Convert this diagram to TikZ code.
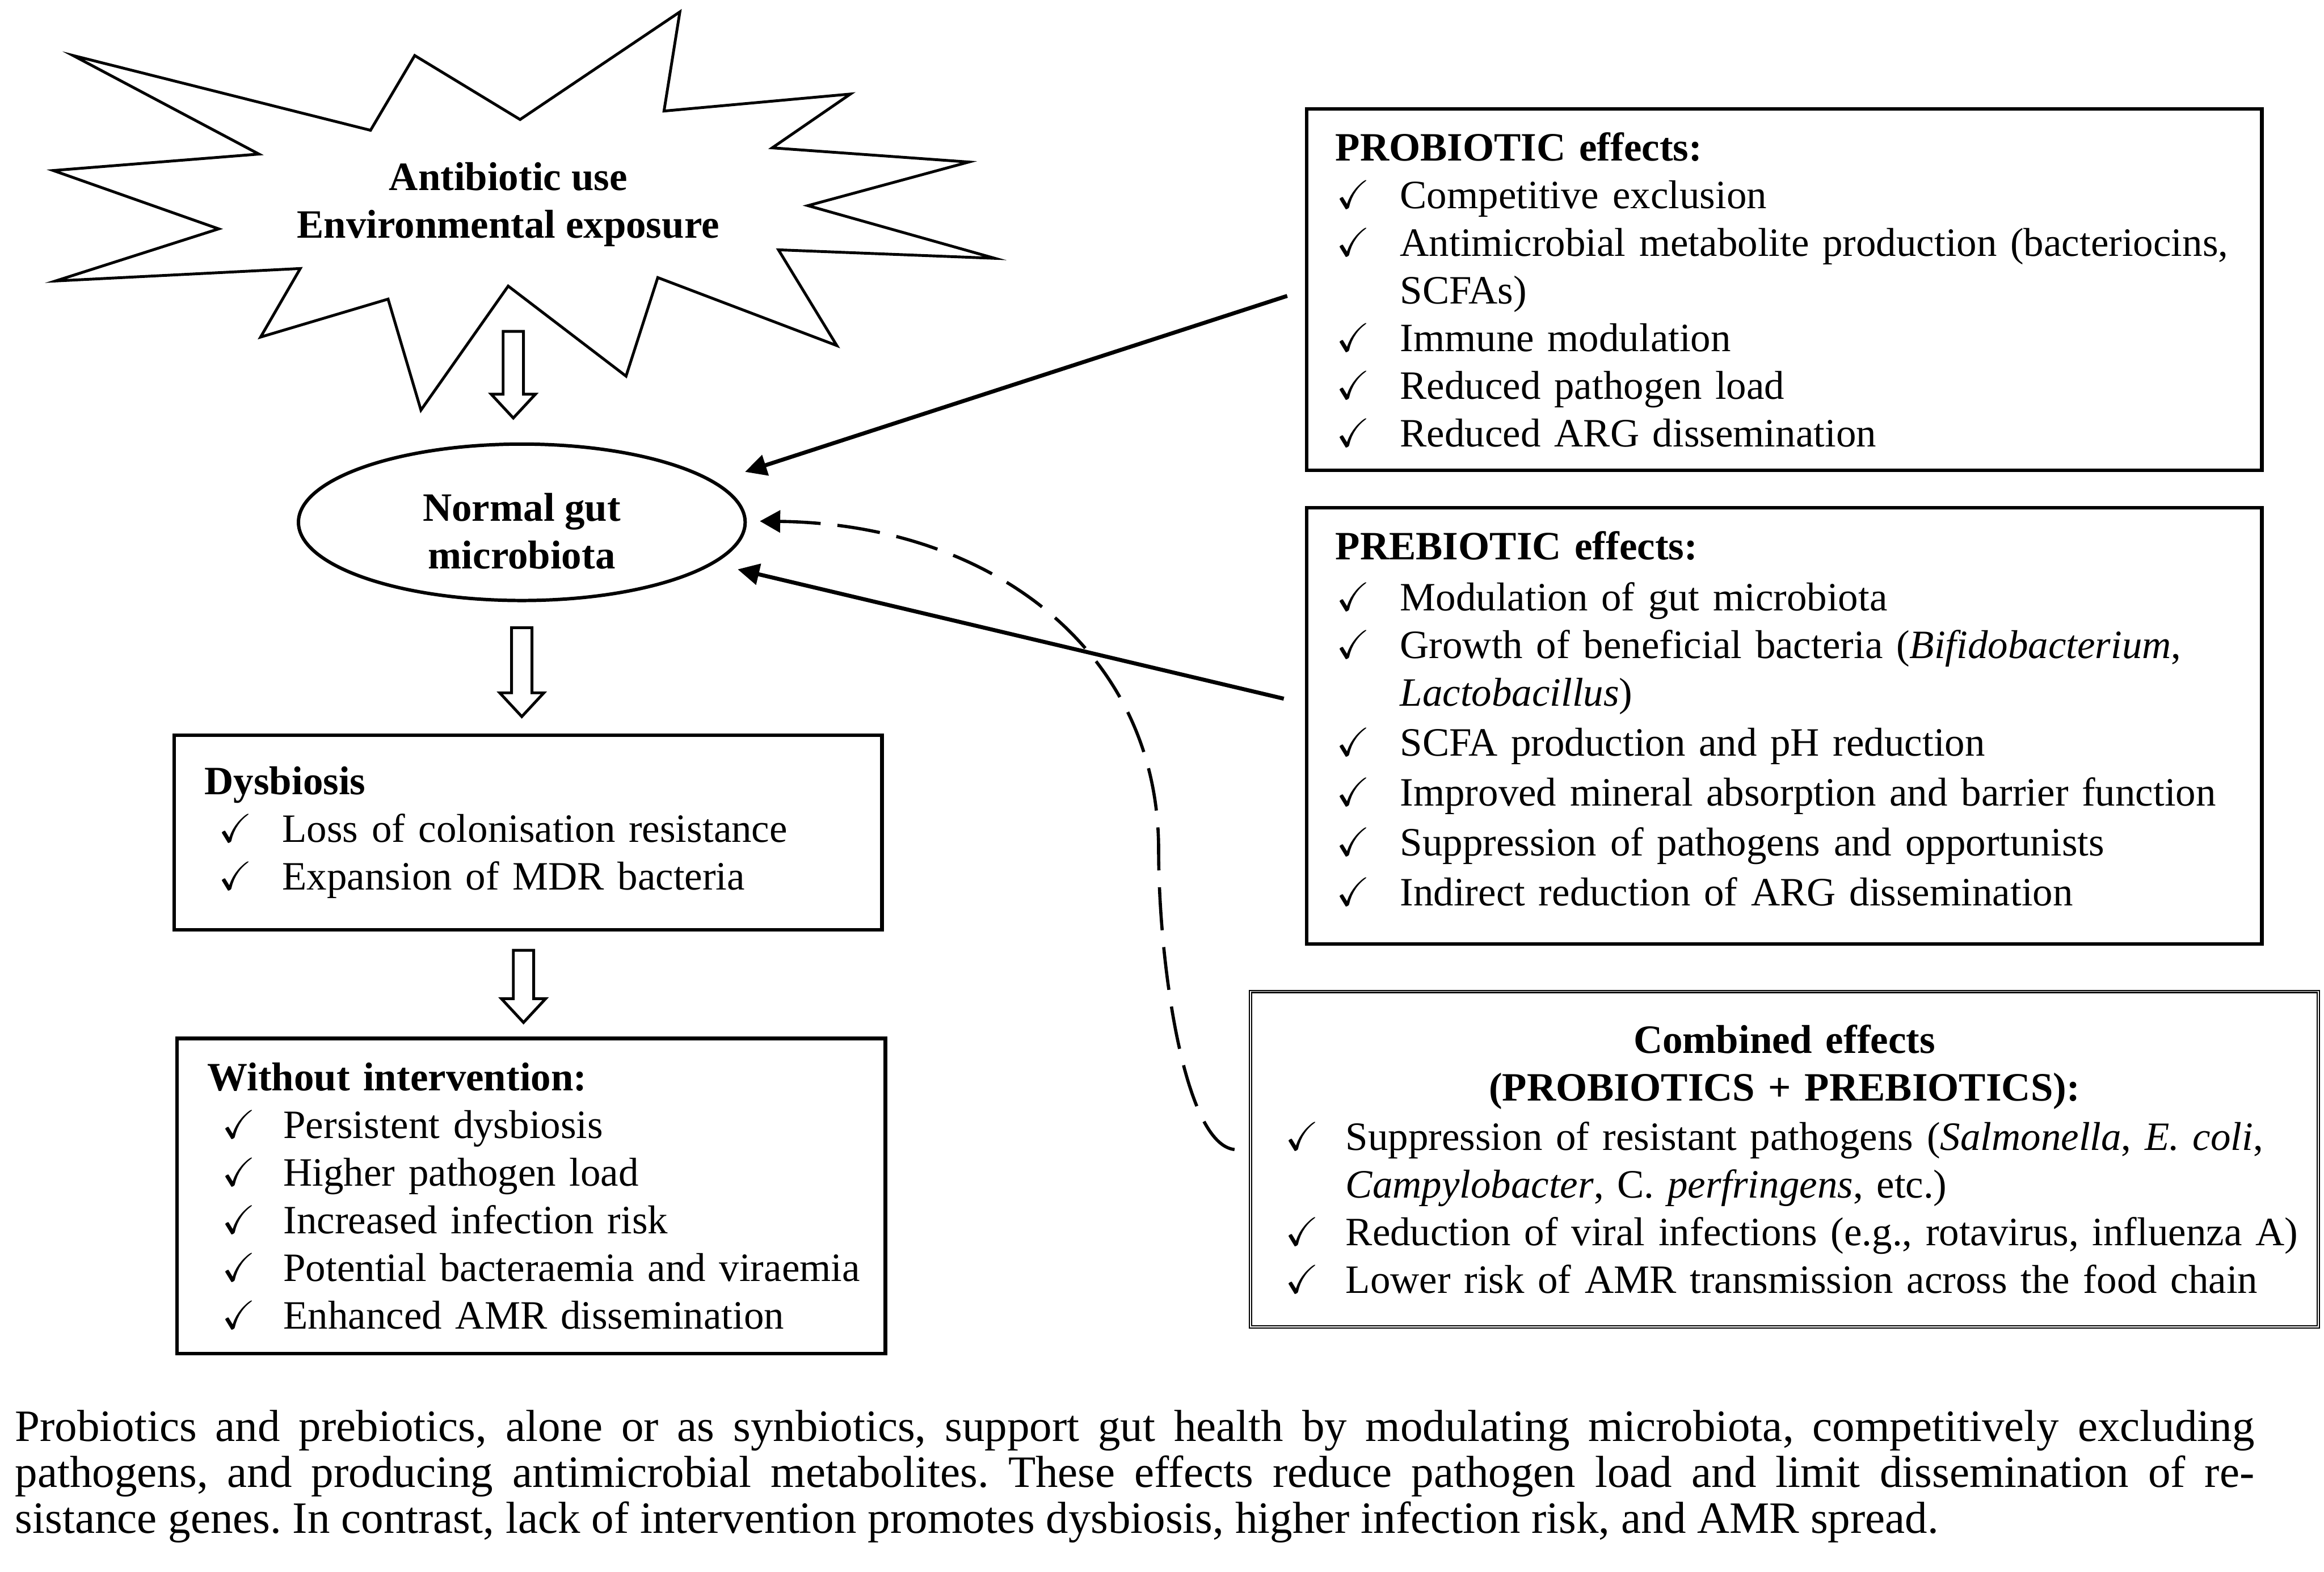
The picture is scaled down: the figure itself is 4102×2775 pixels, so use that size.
\documentclass[tikz,border=0pt]{standalone}
\usepackage{fontspec}
\setmainfont{Liberation Serif}
\usepackage{amssymb}
\usetikzlibrary{shapes.geometric, arrows.meta, calc}
\frenchspacing

\newlength{\chkin}
\newlength{\chkw}
\newcommand{\chk}[1]{\mbox{\hspace*{\chkin}\makebox[\chkw][l]{\checkmark}#1}}
\newcommand{\cont}[1]{\mbox{\hspace*{\chkin}\hspace*{\chkw}#1}}
\newcommand{\boxfont}{\fontsize{20.2pt}{23.9pt}\selectfont}
\newcommand{\blockdown}[2]{%
  \coordinate (bdtip) at (#1 |- #2);
  \draw[hollowarrow] ($(#1)+(-18,0)$) -- ($(#1)+(18,0)$) -- ($(bdtip)+(18,-42)$)
    -- ($(bdtip)+(39,-42)$) -- (bdtip) -- ($(bdtip)+(-39,-42)$) -- ($(bdtip)+(-18,-42)$) -- cycle;}

\tikzset{
  listbox/.style 2 args={draw, line width=1.8pt, anchor=north west, align=left,
    inner ysep=0pt, font=\boxfont,
    execute at begin node={\setlength{\chkin}{#1}\setlength{\chkw}{#2}}},
  hollowarrow/.style={draw, line width=1.4pt, line join=miter, fill=white},
  effectarrow/.style={line width=2pt, -{Triangle[length=10.8pt,width=10.5pt]}},
  combarrow/.style={line width=1.6pt, dash pattern=on 21.6pt off 8.5pt,
    -{Triangle[length=10.2pt,width=11pt]}},
}

\begin{document}
\begin{tikzpicture}[x=0.01cm, y=-0.01cm]
    \useasboundingbox (0,0) rectangle (4102,2775);
    \fill[white] (0,0) rectangle (4102,2775);

    % starburst
    \draw[line width=1.4pt, line join=miter] (129,98) -- (654,230) -- (732,98) -- (918,211)
      -- (1200,21) -- (1172,196) -- (1501,166) -- (1363,261) -- (1710,286) -- (1426,363)
      -- (1756,456) -- (1374,441) -- (1477,610) -- (1161,490) -- (1105,664) -- (897,505)
      -- (743,724) -- (685,528) -- (460,595) -- (530,474) -- (98,496) -- (386,404)
      -- (94,301) -- (457,272) -- cycle;
    \node[align=center, font=\bfseries\boxfont] (burst) at (897,361) {Antibiotic use\\Environmental exposure};
    \coordinate (burstfoot) at (906,585);

    \node[ellipse, draw, line width=1.7pt, minimum width=7.88cm, minimum height=2.76cm,
      align=center, font=\bfseries\boxfont] (gut) at (921,922) {\rule{0pt}{0.8cm}Normal gut\\microbiota};

    \node[listbox={0.25cm}{1.12cm}, minimum width=12.49cm, minimum height=3.43cm,
      text width=11.41cm, inner xsep=0.54cm] (dysb) at (304,1295) {%
      \textbf{Dysbiosis}\\
      \chk{Loss of colonisation resistance}\\
      \chk{Expansion of MDR bacteria}};

    \node[listbox={0.26cm}{1.08cm}, minimum width=12.50cm, minimum height=5.56cm,
      text width=11.42cm, inner xsep=0.54cm] (without) at (309,1830) {%
      \textbf{Without intervention:}\\
      \chk{Persistent dysbiosis}\\
      \chk{Higher pathogen load}\\
      \chk{Increased infection risk}\\
      \chk{Potential bacteraemia and viraemia}\\
      \chk{Enhanced AMR dissemination}};

    \node[listbox={0.02cm}{1.12cm}, minimum width=16.85cm, minimum height=6.38cm,
      text width=15.83cm, inner xsep=0.51cm] (probio) at (2303,189) {%
      \textbf{PROBIOTIC effects:}\\
      \chk{Competitive exclusion}\\
      \chk{Antimicrobial metabolite production (bacteriocins,}\\
      \cont{SCFAs)}\\
      \chk{Immune modulation}\\
      \chk{Reduced pathogen load}\\
      \chk{Reduced ARG dissemination}};

    \node[listbox={0.02cm}{1.12cm}, minimum width=16.85cm, minimum height=7.70cm,
      text width=15.83cm, inner xsep=0.51cm] (prebio) at (2303,893) {%
      \textbf{PREBIOTIC effects:}\\[0.06cm]
      \chk{Modulation of gut microbiota}\\
      \chk{Growth of beneficial bacteria (\textit{Bifidobacterium},}\\
      \cont{\textit{Lactobacillus})}\\[0.04cm]
      \chk{SCFA production and pH reduction}\\[0.04cm]
      \chk{Improved mineral absorption and barrier function}\\[0.04cm]
      \chk{Suppression of pathogens and opportunists}\\[0.04cm]
      \chk{Indirect reduction of ARG dissemination}\rule[-0.26cm]{0pt}{0pt}};

    \node[listbox={0cm}{1.06cm}, line width=0.6pt, double, double distance=0.5pt,
      minimum width=18.84cm, minimum height=5.92cm, text width=17.60cm,
      inner xsep=0.62cm] (combin) at (2206,1749) {%
      \makebox[\linewidth]{\textbf{Combined effects}}\\
      \makebox[\linewidth]{\textbf{(PROBIOTICS + PREBIOTICS):}}\\[0.04cm]
      \chk{Suppression of resistant pathogens (\textit{Salmonella}, \textit{E. coli},}\\
      \cont{\textit{Campylobacter}, C. \textit{perfringens}, etc.)}\\
      \chk{Reduction of viral infections (e.g., rotavirus, influenza A)}\\
      \chk{Lower risk of AMR transmission across the food chain}};

    % block arrows down the left column
    \coordinate (a1e) at ($(gut.north)+(0,-43)$);
    \blockdown{burstfoot}{a1e}
    \coordinate (a2s) at ($(gut.south)+(0,45)$);
    \coordinate (a2e) at ($(dysb.north)+(0,-30)$);
    \blockdown{a2s}{a2e}
    \coordinate (a3s) at ($(dysb.south)+(-8,33)$);
    \coordinate (a3e) at ($(without.north)+(0,-25)$);
    \blockdown{a3s}{a3e}

    % effects pointing back to the microbiota
    \coordinate (proTip) at (1315,833);
    \coordinate (preTip) at (1302,1005);
    \draw[effectarrow] ($(probio.west)+(-31,11)$) -- (proTip);
    \draw[effectarrow] ($(prebio.west)+(-37,-48)$) -- (preTip);
    \draw[combarrow] ($(combin.west)+(-27,-17)$) .. controls (2090,2020) and (2045,1700) .. (2045,1500)
      .. controls (2045,1150) and (1750,925) .. ($(gut.east)+(23,-2)$);

    \node[anchor=north west, inner sep=0pt, text width=39.5cm, align=justify,
      font=\fontsize{22.5pt}{23.05pt}\selectfont] (caption) at (26,2489) {Probiotics and prebiotics, alone or as synbiotics, support gut health by modulating microbiota, competitively excluding\linebreak pathogens, and producing antimicrobial metabolites. These effects reduce pathogen load and limit dissemination of re-\linebreak sistance genes. In contrast, lack of intervention promotes dysbiosis, higher infection risk, and AMR spread.};
\end{tikzpicture}
\end{document}
